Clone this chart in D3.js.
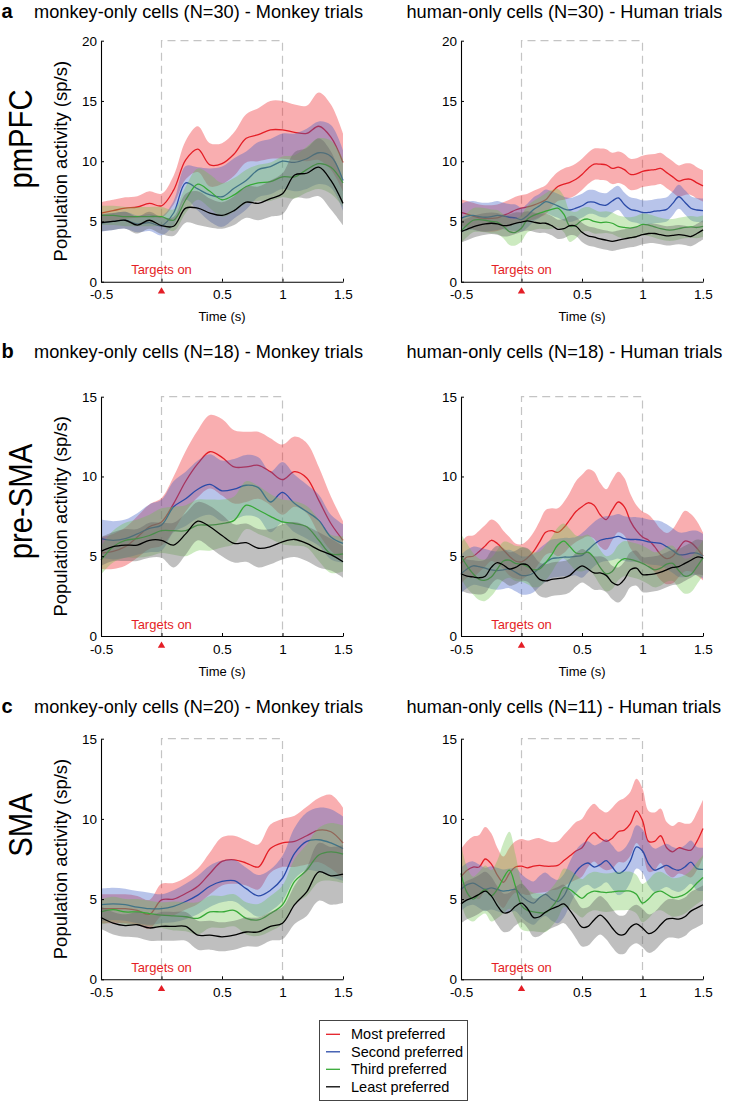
<!DOCTYPE html>
<html><head><meta charset="utf-8">
<script src="https://cdn.jsdelivr.net/npm/d3@7"></script>
<style>
body{margin:0;background:#fff}
svg{display:block}
text{font-family:"Liberation Sans",Arial,Helvetica,sans-serif}
</style>
</head><body>
<svg id="chart" width="750" height="1104"></svg>
<script>
// ---------- DATA ----------
const seriesNames = ["Most preferred","Second preferred","Third preferred","Least preferred"];
const rowLetters = ["a","b","c"];
const rowLabels = ["pmPFC","pre-SMA","SMA"];
const leftTitles = ["monkey-only cells (N=30) - Monkey trials","monkey-only cells (N=18) - Monkey trials","monkey-only cells (N=20) - Monkey trials"];
const rightTitles = ["human-only cells (N=30) - Human trials","human-only cells (N=18) - Human trials","human-only cells (N=11) - Human trials"];
const yMaxes = [20,15,15];
const yTicksA = [0,5,10,15,20];
const yTicksBC = [0,5,10,15];
const xTicks = [-0.5,0,0.5,1,1.5];
const xTickLabels = ["-0.5","","0.5","1","1.5"];
const yLabel = "Population activity (sp/s)";
const xLabel = "Time (s)";
const eventLabel = "Targets on";

const tMonkey = [-0.5,-0.4,-0.3,-0.2,-0.1,0,0.1,0.2,0.3,0.4,0.5,0.6,0.7,0.8,0.9,1,1.1,1.2,1.3,1.4,1.5];
const tHuman = [-0.5,-0.45,-0.4,-0.35,-0.3,-0.25,-0.2,-0.15,-0.1,-0.05,0,0.05,0.1,0.15,0.2,0.25,0.3,0.35,0.4,0.45,0.5,0.55,0.6,0.65,0.7,0.75,0.8,0.85,0.9,0.95,1,1.05,1.1,1.15,1.2,1.25,1.3,1.35,1.4,1.45,1.5];

// a: pmPFC, monkey
const aL_most = [5.7,5.9,6.1,6.2,6.5,6.3,7.6,10.1,11.0,9.7,9.8,10.6,11.9,12.2,12.6,12.6,12.4,12.3,12.9,12.0,9.9];
const aL_most_err = [0.9,0.9,0.9,0.9,1.0,1.0,1.2,1.6,1.9,1.8,1.7,1.8,2.0,2.2,2.4,2.4,2.3,2.3,2.8,2.7,2.4];
const aL_second = [4.85,5.0,5.1,4.8,4.9,4.65,5.7,8.2,7.7,7.2,7.05,7.75,8.4,9.3,9.55,10.0,9.9,10.2,10.7,10.4,8.4];
const aL_second_err = [0.7,0.7,0.7,0.7,0.7,0.8,1.0,1.4,1.8,2.2,2.5,2.5,2.4,2.3,2.3,2.3,2.4,2.5,2.6,2.6,2.5];
const aL_third = [5.5,5.5,5.4,5.4,5.4,5.4,5.1,6.8,8.1,7.5,6.8,7.2,7.9,8.2,8.3,8.7,8.7,9.3,9.8,9.5,8.2];
const aL_third_err = [0.8,0.8,0.8,0.8,0.8,0.8,0.9,1.1,1.3,1.4,1.4,1.4,1.4,1.5,1.6,1.7,1.8,1.9,2.1,2.2,2.0];
const aL_least = [4.9,5.0,5.1,4.7,5.1,4.65,4.6,6.1,6.1,5.7,5.5,5.9,6.6,6.5,6.9,7.3,8.85,9.0,9.5,8.4,6.5];
const aL_least_err = [0.7,0.7,0.7,0.7,0.7,0.7,0.8,1.2,1.4,1.2,1.1,1.2,1.3,1.4,1.5,1.7,1.9,2.1,2.4,2.4,1.8];

// a: pmPFC, human
const aR_most = [5.75,5.6,5.45,5.3,5.25,5.25,5.3,5.5,5.7,5.95,6.1,6.2,6.35,6.55,6.8,7.4,7.9,8.1,8.25,8.5,8.9,9.4,9.75,9.75,9.7,9.4,9.5,9.3,8.9,8.95,9.15,9.25,9.3,9.4,9.05,8.7,8.35,8.5,8.5,8.2,7.95];
const aR_most_err = [1.1,1.1,1.1,1.1,1.1,1.1,1.1,1.1,1.1,1.1,1.1,1.1,1.2,1.2,1.2,1.2,1.2,1.3,1.3,1.3,1.3,1.3,1.3,1.3,1.3,1.3,1.3,1.3,1.3,1.3,1.3,1.3,1.3,1.3,1.3,1.3,1.3,1.3,1.3,1.3,1.3];
const aR_second = [5.25,5.45,5.5,5.4,5.35,5.4,5.5,5.45,5.35,5.3,5.15,5.5,6.0,6.3,6.65,6.5,6.3,6.05,5.95,6.1,6.3,6.6,6.6,6.4,6.35,6.7,6.95,6.4,6.0,5.9,5.75,5.75,5.85,5.9,6.0,6.5,7.05,6.6,6.1,5.95,5.9];
const aR_second_err = [1.2,1.2,1.2,1.2,1.2,1.2,1.2,1.1,1.1,1.1,1.0,1.0,1.0,1.0,1.0,1.0,1.0,1.0,1.0,1.0,1.0,1.0,1.0,1.0,1.0,1.0,1.0,1.0,1.0,1.0,1.0,1.0,1.0,1.0,1.0,1.0,1.0,1.0,1.0,1.0,1.0];
const aR_third = [4.2,4.7,5.1,5.15,5.1,5.0,4.95,4.6,4.15,4.1,4.45,5.2,5.5,5.7,5.85,6.0,6.1,5.6,4.6,4.7,5.1,5.2,5.0,4.9,4.95,4.85,4.6,4.5,4.45,4.55,4.75,4.7,4.55,4.4,4.3,4.3,4.4,4.5,4.55,4.5,4.6];
const aR_third_err = [1.0,1.0,1.0,1.0,1.0,1.0,1.0,1.0,1.1,1.1,1.1,1.1,1.2,1.3,1.5,1.6,1.6,1.5,1.3,1.1,1.0,1.0,1.0,0.9,0.9,0.9,0.9,0.9,0.9,0.9,0.9,0.9,0.9,0.9,0.9,0.9,0.9,0.9,0.9,0.9,0.9];
const aR_least = [4.15,4.35,4.55,4.7,4.8,4.85,4.8,4.65,4.7,4.85,4.95,5.05,4.95,4.85,4.85,4.65,4.35,4.4,4.65,4.6,4.1,3.8,3.7,3.55,3.45,3.35,3.45,3.55,3.65,3.75,3.9,4.0,4.0,3.9,3.8,3.85,3.9,3.85,3.75,4.0,4.3];
const aR_least_err = [0.9,0.9,0.9,0.9,0.9,0.9,0.9,0.9,0.9,0.9,0.8,0.8,0.8,0.8,0.8,0.8,0.8,0.8,0.8,0.8,0.8,0.8,0.8,0.8,0.8,0.8,0.8,0.8,0.8,0.8,0.8,0.8,0.8,0.8,0.8,0.8,0.8,0.8,0.8,0.8,0.8];

// b: pre-SMA, monkey
const bL_most = [5.2,5.3,5.6,6.2,6.85,7.15,8.3,9.7,10.8,11.55,11.2,10.6,10.6,10.7,10.3,9.8,10.3,9.9,8.5,7.05,6.0];
const bL_most_err = [1.0,1.1,1.2,1.3,1.4,1.5,1.7,1.9,2.1,2.3,2.4,2.3,2.2,2.1,2.1,2.2,2.2,2.2,2.1,1.7,1.2];
const bL_second = [6.1,6.0,6.1,6.4,6.75,6.95,8.1,8.6,9.2,9.5,9.1,9.2,9.45,9.3,8.4,9.0,8.3,7.8,7.25,6.2,5.8];
const bL_second_err = [1.2,1.2,1.2,1.3,1.5,1.6,1.6,1.7,1.8,1.9,1.9,1.9,1.9,1.9,1.9,1.9,1.8,1.7,1.6,1.4,1.2];
const bL_third = [4.75,5.6,6.0,6.1,6.3,6.6,6.6,6.6,6.95,6.95,7.05,7.25,8.2,7.9,7.5,7.15,7.05,6.85,6.0,5.15,5.15];
const bL_third_err = [0.9,1.0,1.1,1.2,1.3,1.4,1.5,1.6,1.6,1.6,1.5,1.5,1.5,1.5,1.4,1.4,1.4,1.3,1.3,1.2,1.1];
const bL_least = [5.3,5.6,5.7,5.7,6.0,6.0,5.7,6.4,7.2,6.85,6.3,5.8,5.85,5.5,5.6,5.9,6.05,5.8,5.4,5.1,4.65];
const bL_least_err = [0.9,0.9,1.0,1.0,1.1,1.1,1.4,1.3,1.2,1.3,1.3,1.2,1.2,1.2,1.1,1.1,1.1,1.1,1.1,1.0,1.0];

// b: pre-SMA, human
const bR_most = [4.55,4.95,5.0,5.3,5.65,6.0,5.8,5.4,5.0,4.7,4.65,4.9,5.3,5.9,6.5,6.6,6.5,6.8,7.3,7.8,8.1,8.35,8.2,7.6,7.3,7.9,8.4,8.1,7.2,6.6,6.2,6.0,5.6,5.1,4.85,5.0,5.5,5.95,5.85,5.5,5.0];
const bR_most_err = [1.3,1.3,1.3,1.3,1.3,1.3,1.3,1.2,1.2,1.1,1.1,1.1,1.2,1.3,1.4,1.4,1.5,1.6,1.7,1.9,2.0,2.1,2.1,2.0,1.9,1.9,1.9,1.8,1.7,1.6,1.6,1.6,1.6,1.6,1.6,1.7,1.8,1.9,1.8,1.7,1.5];
const bR_second = [3.9,4.2,4.4,4.35,4.25,4.15,4.1,4.15,4.2,4.0,3.8,3.8,3.95,4.3,4.6,4.85,4.9,4.95,4.95,5.0,5.05,5.4,5.75,6.0,6.1,6.15,6.25,6.1,6.05,6.05,6.0,5.9,5.85,5.8,5.6,5.35,5.1,5.1,5.2,5.2,5.0];
const bR_second_err = [1.2,1.2,1.2,1.2,1.2,1.2,1.2,1.2,1.2,1.2,1.2,1.2,1.2,1.2,1.2,1.2,1.2,1.2,1.2,1.2,1.4,1.4,1.4,1.4,1.4,1.4,1.4,1.4,1.4,1.4,1.4,1.4,1.4,1.4,1.4,1.4,1.4,1.4,1.4,1.4,1.4];
const bR_third = [5.0,4.4,3.9,3.55,3.5,3.7,4.2,4.7,4.75,4.55,4.5,4.35,4.15,4.2,4.6,5.1,5.7,5.95,5.6,5.2,5.15,5.25,4.9,4.3,3.9,4.05,4.6,4.85,4.8,4.7,4.55,4.35,4.15,4.25,4.5,4.55,4.1,3.75,3.85,4.35,4.9];
const bR_third_err = [1.4,1.4,1.3,1.3,1.3,1.2,1.2,1.2,1.1,1.1,1.1,1.1,1.1,1.1,1.1,1.1,1.1,1.1,1.1,1.1,1.1,1.1,1.1,1.1,1.1,1.1,1.1,1.1,1.1,1.1,1.1,1.1,1.1,1.1,1.1,1.1,1.1,1.1,1.1,1.1,1.1];
const bR_least = [3.9,3.75,3.7,3.65,3.75,4.3,4.6,4.45,4.2,4.3,4.5,4.45,4.0,3.55,3.45,3.55,3.6,3.65,3.8,4.15,4.4,4.2,3.95,3.95,3.8,3.35,3.2,3.55,4.15,4.25,3.85,3.85,3.9,4.0,4.15,4.3,4.35,4.55,4.75,4.95,4.9];
const bR_least_err = [1.05,1.05,1.05,1.05,1.05,1.05,1.05,1.05,1.05,1.05,1.05,1.05,1.05,1.05,1.05,1.05,1.05,1.05,1.05,1.05,1.05,1.05,1.05,1.05,1.05,1.05,1.1,1.1,1.1,1.1,1.1,1.1,1.1,1.1,1.1,1.1,1.1,1.1,1.1,1.1,1.1];

// c: SMA, monkey
const cL_most = [4.4,4.4,4.4,4.3,4.05,4.95,5.0,5.35,5.8,6.6,7.35,7.45,7.25,7.0,8.15,8.5,8.6,8.95,9.3,9.2,8.5];
const cL_most_err = [0.9,0.9,0.9,0.9,0.9,1.0,1.0,1.0,1.1,1.3,1.5,1.5,1.4,1.4,1.5,1.5,1.6,1.8,2.0,2.3,2.2];
const cL_second = [4.65,4.7,4.65,4.5,4.4,4.4,4.55,4.85,5.25,5.8,6.1,6.15,5.65,5.2,5.55,6.3,7.85,8.6,8.7,8.5,8.15];
const cL_second_err = [1.0,1.0,1.0,1.0,1.0,0.9,1.0,1.1,1.2,1.3,1.3,1.3,1.3,1.3,1.3,1.4,1.6,1.8,2.0,2.1,2.0];
const cL_third = [4.2,4.35,4.2,4.2,4.1,4.0,3.95,3.9,3.8,4.2,4.2,4.3,3.8,3.7,4.1,4.65,6.1,6.8,7.75,7.95,7.8];
const cL_third_err = [0.8,0.8,0.8,0.8,0.8,0.8,0.9,0.9,1.0,1.0,1.0,1.0,1.0,1.0,1.1,1.2,1.4,1.6,1.7,1.8,1.8];
const cL_least = [3.85,3.5,3.35,3.4,3.2,3.3,3.3,3.3,2.75,2.75,2.65,2.75,2.95,2.95,3.3,3.5,4.65,5.45,6.7,6.45,6.55];
const cL_least_err = [0.7,0.7,0.7,0.8,0.8,0.9,0.9,0.9,0.9,0.9,0.9,0.9,0.9,0.9,0.9,1.0,1.2,1.5,1.8,1.8,1.8];

// c: SMA, human
const cR_most = [6.4,6.8,7.0,7.0,7.5,7.2,6.5,6.05,6.6,7.0,7.05,6.95,7.05,7.1,7.05,7.05,7.1,7.4,7.7,8.0,8.2,8.8,9.15,8.8,8.6,8.8,9.2,9.3,9.7,10.5,9.9,8.6,8.6,8.95,8.2,7.95,8.2,8.1,8.05,8.6,9.4];
const cR_most_err = [1.7,1.8,1.9,2.0,2.0,1.9,1.7,1.6,1.6,1.6,1.7,1.7,1.7,1.7,1.6,1.5,1.5,1.6,1.7,1.8,1.8,1.8,1.8,1.8,1.8,1.9,1.9,2.0,2.0,2.0,2.0,1.9,1.8,1.7,1.6,1.6,1.6,1.6,1.7,1.8,1.8];
const cR_second = [5.6,5.9,6.0,5.8,5.6,5.7,5.6,5.5,5.55,5.6,5.2,4.9,4.75,5.1,5.3,5.0,4.85,5.2,6.0,6.7,7.1,7.25,7.0,7.15,7.4,7.0,6.6,6.8,7.4,8.25,8.0,7.2,6.8,6.95,7.1,6.9,6.8,7.0,7.3,6.9,6.85];
const cR_second_err = [1.35,1.35,1.35,1.35,1.35,1.35,1.35,1.35,1.35,1.35,1.35,1.35,1.35,1.35,1.35,1.35,1.35,1.35,1.35,1.35,1.35,1.35,1.35,1.35,1.35,1.35,1.35,1.35,1.35,1.35,1.35,1.35,1.35,1.35,1.35,1.35,1.35,1.35,1.35,1.35,1.35];
const cR_third = [6.6,5.4,5.0,5.3,5.6,5.2,5.6,6.3,6.8,5.8,4.6,4.3,4.2,4.15,4.15,4.5,5.0,5.7,5.6,5.3,5.05,5.35,5.5,5.45,5.4,5.45,5.5,5.5,5.5,5.3,4.75,5.0,5.4,5.5,5.3,5.1,5.15,5.3,5.6,6.0,6.35];
const cR_third_err = [1.8,1.6,1.4,1.4,1.5,1.6,1.8,2.2,2.4,2.0,1.5,1.3,1.2,1.2,1.2,1.2,1.2,1.2,1.2,1.2,1.2,1.2,1.2,1.2,1.2,1.2,1.2,1.2,1.2,1.2,1.2,1.2,1.2,1.2,1.2,1.2,1.2,1.2,1.2,1.3,1.4];
const cR_least = [4.7,4.95,5.1,5.3,5.5,5.2,4.6,4.15,4.2,4.55,4.75,4.4,3.85,3.9,4.2,4.4,4.55,4.7,4.3,3.75,3.25,3.3,3.7,4.0,3.7,3.2,2.8,2.8,3.25,3.45,3.2,2.85,3.0,3.4,3.75,3.8,3.75,3.9,4.25,4.45,4.65];
const cR_least_err = [1.2,1.2,1.2,1.2,1.2,1.2,1.2,1.2,1.2,1.2,1.2,1.2,1.2,1.2,1.2,1.2,1.2,1.2,1.2,1.2,1.2,1.2,1.2,1.2,1.2,1.2,1.2,1.2,1.2,1.2,1.2,1.2,1.2,1.2,1.2,1.2,1.2,1.2,1.2,1.2,1.2];

// ---------- STYLE / LAYOUT ----------
const lineColors = ["#e41e26","#2a4aa8","#36a936","#000000"];
const bandColors = ["#ee2a2f","#3a5cc4","#6cc24a","#666666"];
const bandOpacity = [0.38,0.36,0.35,0.42];
const font = "'Liberation Sans',Arial,Helvetica,sans-serif";

const rows = [
  {top:40.7, bottom:281.7, titleY:18.3, labelY:139, yTicks:yTicksA, showTime:true,
   left:{t:tMonkey, m:[aL_most,aL_second,aL_third,aL_least], e:[aL_most_err,aL_second_err,aL_third_err,aL_least_err]},
   right:{t:tHuman, m:[aR_most,aR_second,aR_third,aR_least], e:[aR_most_err,aR_second_err,aR_third_err,aR_least_err]}},
  {top:396.7, bottom:636, titleY:358.3, labelY:501.5, yTicks:yTicksBC, showTime:true,
   left:{t:tMonkey, m:[bL_most,bL_second,bL_third,bL_least], e:[bL_most_err,bL_second_err,bL_third_err,bL_least_err]},
   right:{t:tHuman, m:[bR_most,bR_second,bR_third,bR_least], e:[bR_most_err,bR_second_err,bR_third_err,bR_least_err]}},
  {top:738.7, bottom:979.3, titleY:713.3, labelY:825, yTicks:yTicksBC, showTime:false,
   left:{t:tMonkey, m:[cL_most,cL_second,cL_third,cL_least], e:[cL_most_err,cL_second_err,cL_third_err,cL_least_err]},
   right:{t:tHuman, m:[cR_most,cR_second,cR_third,cR_least], e:[cR_most_err,cR_second_err,cR_third_err,cR_least_err]}}
];
const colX = [[101,343],[461,703]];

const svg = d3.select("#chart");

function drawPanel(g, row, rowIdx, colIdx, data) {
  const yMax = yMaxes[rowIdx];
  const x = d3.scaleLinear().domain([-0.5,1.5]).range(colX[colIdx]);
  const y = d3.scaleLinear().domain([0,yMax]).range([row.bottom,row.top]);

  g.append("path")
    .attr("d", `M${x(0)},${y(0)}V${y(yMax)}H${x(1)}V${y(0)}`)
    .attr("fill","none").attr("stroke","#c4c4c4").attr("stroke-width",1.2)
    .attr("stroke-dasharray","8,5");

  data.m.forEach((mean, i) => {
    const err = data.e[i];
    const pts = mean.map((v,j)=>({t:data.t[j], v, e:err[j]}));
    const area = d3.area().x(d=>x(d.t)).y0(d=>y(d.v-d.e)).y1(d=>y(d.v+d.e)).curve(d3.curveCatmullRom);
    const line = d3.line().x(d=>x(d.t)).y(d=>y(d.v)).curve(d3.curveCatmullRom);
    g.append("path").attr("d",area(pts)).attr("fill",bandColors[i]).attr("fill-opacity",bandOpacity[i]).attr("stroke","none");
    g.append("path").attr("d",line(pts)).attr("fill","none").attr("stroke",lineColors[i]).attr("stroke-width",1.3);
  });

  const ya = g.append("g").attr("transform",`translate(${x(-0.5)},0)`)
    .call(d3.axisLeft(y).tickValues(row.yTicks).tickFormat(d3.format("d")).tickSize(-3).tickSizeOuter(0).tickPadding(4));
  const xa = g.append("g").attr("transform",`translate(0,${y(0)})`)
    .call(d3.axisBottom(x).tickValues(xTicks).tickFormat((d,i)=>xTickLabels[i]).tickSize(-3).tickSizeOuter(0).tickPadding(8));
  [ya,xa].forEach(a=>{
    a.attr("font-family",font).attr("font-size",13.5);
    a.selectAll("text").attr("fill","#000");
    a.selectAll("line").attr("stroke","#000");
    a.select(".domain").attr("stroke","#000").attr("stroke-width",1.1);
  });

  g.append("text").attr("x",x(0)).attr("y",y(0)-7.4).attr("text-anchor","middle")
    .attr("font-size",13).attr("fill","#e41e26").text(eventLabel);
  const tx = x(0), ty = y(0);
  g.append("path").attr("d",`M${tx-3.7},${ty+11.8}L${tx+3.7},${ty+11.8}L${tx},${ty+5.6}Z`).attr("fill","#e41e26");

  if (row.showTime) {
    g.append("text").attr("x",(colX[colIdx][0]+colX[colIdx][1])/2).attr("y",y(0)+39.5)
      .attr("text-anchor","middle").attr("font-size",13).text(xLabel);
  }
  if (colIdx === 0) {
    g.append("text").attr("transform",`translate(67,${(row.top+row.bottom)/2}) rotate(-90)`)
      .attr("text-anchor","middle").attr("font-size",18.5).text(yLabel);
  }
}

rows.forEach((row, r) => {
  const g = svg.append("g");
  g.append("text").attr("x",1.5).attr("y",row.titleY).attr("font-size",20).attr("font-weight","bold").text(rowLetters[r]);
  g.append("text").attr("x",34).attr("y",row.titleY).attr("font-size",18.2).text(leftTitles[r]);
  g.append("text").attr("x",406.5).attr("y",row.titleY).attr("font-size",18.2).text(rightTitles[r]);
  g.append("text").attr("transform",`translate(32,${row.labelY}) rotate(-90) scale(0.86,1)`)
    .attr("text-anchor","middle").attr("font-size",34).text(rowLabels[r]);
  drawPanel(g.append("g"), row, r, 0, row.left);
  drawPanel(g.append("g"), row, r, 1, row.right);
});

const lg = svg.append("g");
lg.append("rect").attr("x",319.5).attr("y",1020.5).attr("width",148).attr("height",80)
  .attr("fill","#fff").attr("stroke","#444").attr("stroke-width",1);
seriesNames.forEach((name,i)=>{
  const by = 1039.3 + i*17.5;
  lg.append("line").attr("x1",326).attr("x2",340).attr("y1",by-5).attr("y2",by-5)
    .attr("stroke",lineColors[i]).attr("stroke-width",1.3);
  lg.append("text").attr("x",351).attr("y",by).attr("font-size",14.5).text(name);
});
</script>
</body></html>
